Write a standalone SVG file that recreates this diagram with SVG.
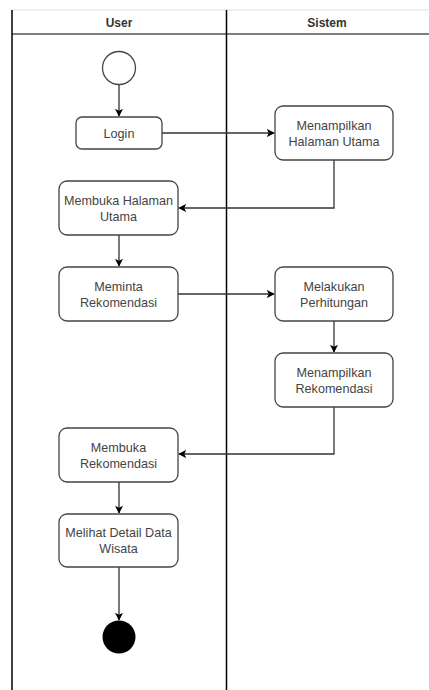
<svg xmlns="http://www.w3.org/2000/svg" width="429" height="690" viewBox="0 0 429 690">
<defs>
<style>
.lane{stroke:#000;stroke-width:1.5;fill:none}
.hdr{font-family:"Liberation Sans",Arial,sans-serif;font-size:12px;font-weight:bold;fill:#333;text-anchor:middle}
.box{fill:#fff;stroke:#444;stroke-width:1.3}
.lbl{font-family:"Liberation Sans",Arial,sans-serif;font-size:12.6px;fill:#444;text-anchor:middle}
.edge{fill:none;stroke:#333;stroke-width:1.3}
</style>
<marker id="arr" viewBox="0 0 10 10" refX="9" refY="5" markerWidth="8" markerHeight="8" markerUnits="userSpaceOnUse" orient="auto">
<path d="M0,0 L10,5 L0,10 L2.5,5 Z" fill="#000"/>
</marker>
</defs>
<rect width="429" height="690" fill="#fff"/>
<g id="swimlanes">
<line x1="12" y1="10" x2="429" y2="10" stroke="#ddd" stroke-width="1"/>
<line x1="12" y1="34" x2="429" y2="34" stroke="#555" stroke-width="1.5"/>
<line class="lane" x1="12" y1="10" x2="12" y2="690"/>
<line class="lane" x1="226.5" y1="10" x2="226.5" y2="690"/>
<text class="hdr" x="119" y="27">User</text>
<text class="hdr" x="327" y="27">Sistem</text>
</g>
<g id="connectors">
<line class="edge" x1="119" y1="85" x2="119" y2="116" marker-end="url(#arr)"/>
<line class="edge" x1="162" y1="133" x2="274" y2="133" marker-end="url(#arr)"/>
<polyline class="edge" points="334,160 334,208 179,208" marker-end="url(#arr)"/>
<line class="edge" x1="119" y1="235" x2="119" y2="266" marker-end="url(#arr)"/>
<line class="edge" x1="178" y1="294" x2="274" y2="294" marker-end="url(#arr)"/>
<line class="edge" x1="334" y1="321" x2="334" y2="352" marker-end="url(#arr)"/>
<polyline class="edge" points="334,407 334,454 179,454" marker-end="url(#arr)"/>
<line class="edge" x1="119" y1="482" x2="119" y2="513" marker-end="url(#arr)"/>
<line class="edge" x1="119" y1="567" x2="119" y2="620" marker-end="url(#arr)"/>
</g>
<g id="start">
<circle cx="119" cy="68" r="16.5" fill="#fff" stroke="#444" stroke-width="1.3"/>
</g>
<g id="login">
<rect class="box" x="76" y="117" width="86" height="32" rx="6"/>
<text class="lbl" x="119" y="137.5">Login</text>
</g>
<g id="menampilkan-halaman">
<rect class="box" x="275" y="106" width="118" height="54" rx="8"/>
<text class="lbl" x="334" y="129.5">Menampilkan</text>
<text class="lbl" x="334" y="145.5">Halaman Utama</text>
</g>
<g id="membuka-halaman">
<rect class="box" x="59" y="181" width="119" height="54" rx="8"/>
<text class="lbl" x="118.5" y="204.5">Membuka Halaman</text>
<text class="lbl" x="118.5" y="220.5">Utama</text>
</g>
<g id="meminta">
<rect class="box" x="59" y="267" width="119" height="54" rx="8"/>
<text class="lbl" x="118.5" y="290.5">Meminta</text>
<text class="lbl" x="118.5" y="306.5">Rekomendasi</text>
</g>
<g id="melakukan">
<rect class="box" x="275" y="267" width="118" height="54" rx="8"/>
<text class="lbl" x="334" y="290.5">Melakukan</text>
<text class="lbl" x="334" y="306.5">Perhitungan</text>
</g>
<g id="menampilkan-rekomendasi">
<rect class="box" x="275" y="353" width="118" height="54" rx="8"/>
<text class="lbl" x="334" y="376.5">Menampilkan</text>
<text class="lbl" x="334" y="392.5">Rekomendasi</text>
</g>
<g id="membuka-rekomendasi">
<rect class="box" x="59" y="428" width="119" height="54" rx="8"/>
<text class="lbl" x="118.5" y="451.5">Membuka</text>
<text class="lbl" x="118.5" y="467.5">Rekomendasi</text>
</g>
<g id="melihat-detail">
<rect class="box" x="59" y="514" width="119" height="53" rx="8"/>
<text class="lbl" x="118.5" y="537">Melihat Detail Data</text>
<text class="lbl" x="118.5" y="553">Wisata</text>
</g>
<g id="end">
<circle cx="119" cy="637" r="16.5" fill="#000"/>
</g>
</svg>
